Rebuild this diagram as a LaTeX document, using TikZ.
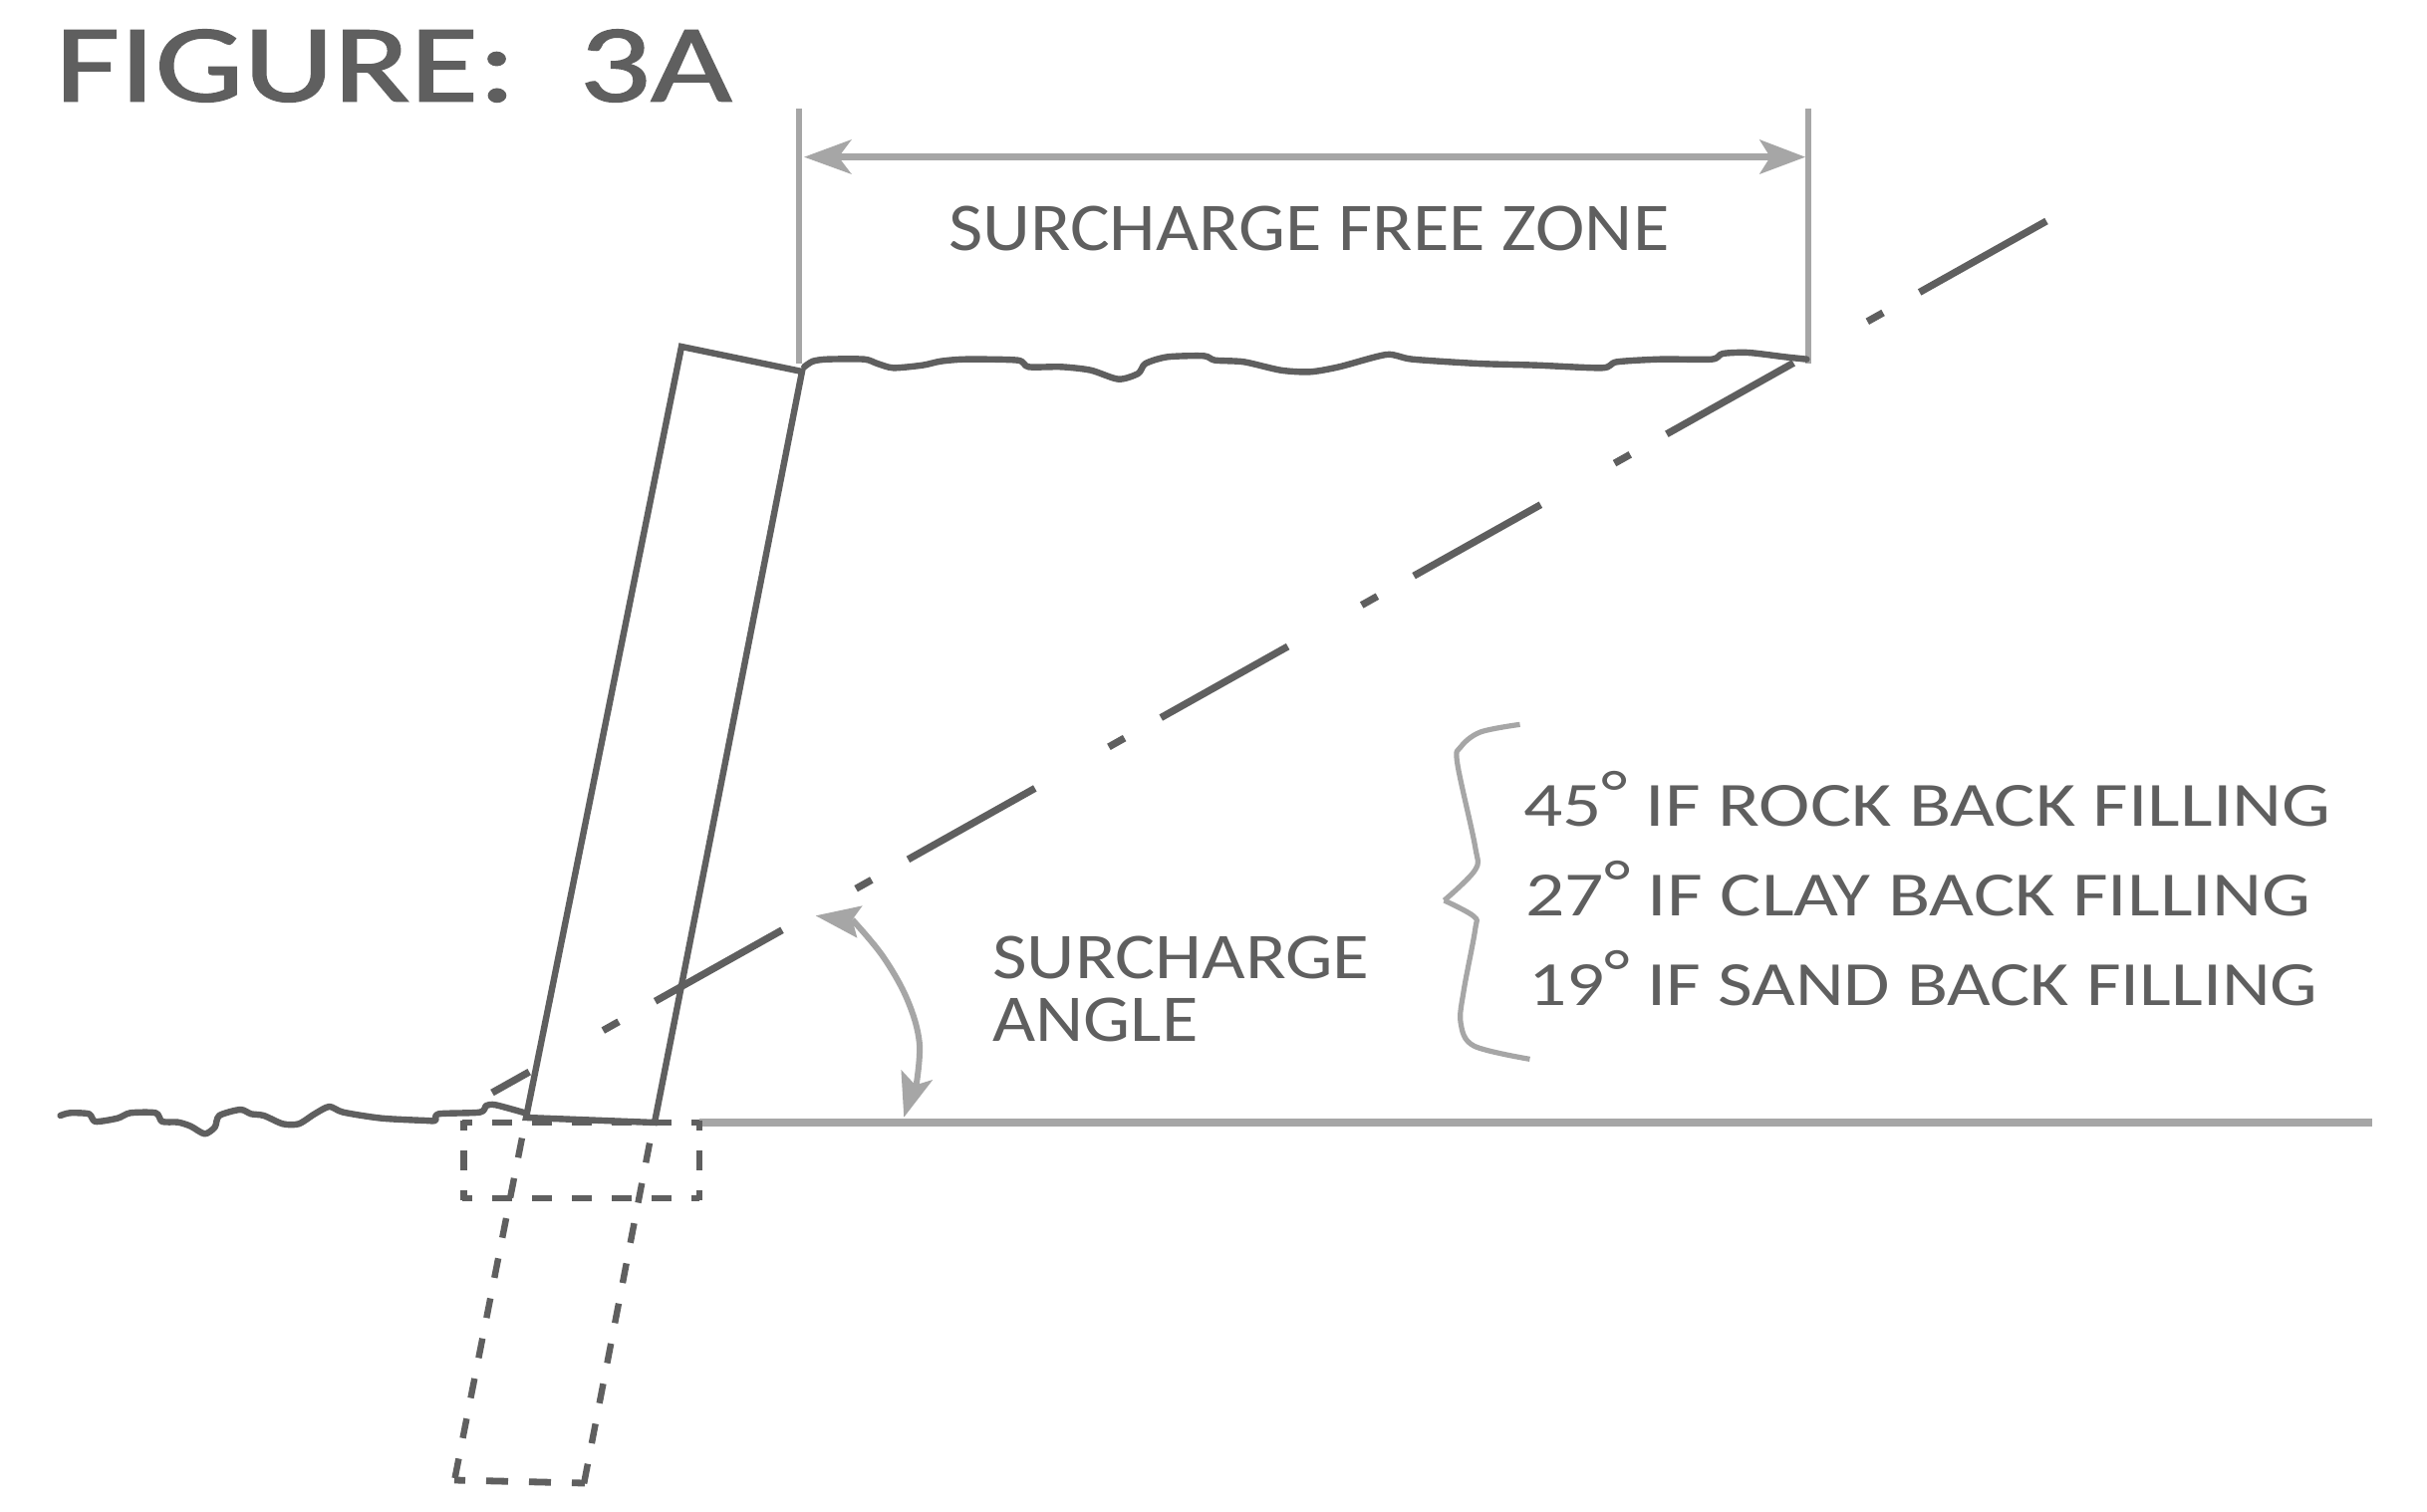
\documentclass[tikz,border=0pt]{standalone}
\usepackage{fontspec}
\usepackage{graphicx}
\setmainfont{Carlito}
\newfontfamily\titlefont[FakeBold=1.2]{Carlito}
\usetikzlibrary{arrows.meta}
\definecolor{ink}{RGB}{95,95,95}
\definecolor{pale}{RGB}{166,166,166}
\newcommand{\fitlabel}[3]{\resizebox*{#1}{#2}{#3}}
\newcommand{\degmark}{\raisebox{.18em}{°}}
\tikzset{
  inkline/.style={draw=ink,line width=3.2pt},
  roughline/.style={draw=ink,line width=3.2pt,line join=round,line cap=round},
  paleline/.style={draw=pale,line width=3pt},
  palethick/.style={draw=pale,line width=3.8pt},
  palehead/.style={fill=pale,draw=none},
  hiddenline/.style={draw=ink,line width=3.4pt},
  textlabel/.style={anchor=south west,inner sep=0pt,text=ink},
  zoomA/.style={xshift=0pt,yshift=-500pt,x=.319pt,y=-.16667pt},
  zoomB/.style={xshift=700pt,yshift=-350pt,x=.3304pt,y=-.16667pt},
  zoomC/.style={xshift=375pt,yshift=-45pt,x=.3667pt,y=-.16667pt},
  zoomD/.style={xshift=390pt,yshift=-440pt,x=.204pt,y=-.16667pt},
}
\begin{document}
\begin{tikzpicture}[x=.5pt,y=-.5pt]
\path[use as bounding box,fill=white] (0,0) rectangle (2436,1518);

% dash-dot surcharge line
\draw[draw=ink,line width=3.6pt,dash pattern=on 73pt off 21pt on 9pt off 42.5pt] (2054,222) -- (494,1097);

% dimension lines
\draw[paleline] (802,109) -- (802,365);
\draw[paleline] (1815,109) -- (1815,365);
\draw[palethick] (840,157.7) -- (1780,157.7);
\begin{scope}[zoomC]
  \fill[palehead] (78,203) -- (143,150) -- (125,203) -- (143,255) -- cycle;
  \fill[palehead] (1448,203) -- (1385,150) -- (1400,203) -- (1385,255) -- cycle;
  \draw[roughline] plot[smooth,tension=.45] coordinates {(78,835) (90,818) (110,812) (160,812) (178,825) (200,838) (240,830) (265,818) (300,812) (370,815) (385,835) (430,835) (470,845) (508,872) (535,855) (545,825) (575,805) (625,802) (640,815) (680,820) (730,845) (770,850) (810,835) (875,798) (910,812) (1000,825) (1080,830) (1170,838) (1190,820) (1250,812) (1320,812) (1335,795) (1370,792) (1420,805) (1450,812)};
\end{scope}

% wall
\draw[inkline,line join=miter] (684,348) -- (805,373) -- (657,1127) -- (528,1122) -- cycle;

% ground level
\draw[palethick] (702,1127) -- (2381,1127);
\begin{scope}[zoomA]
  \draw[roughline] plot[smooth,tension=.45] coordinates {(95,360) (110,352) (140,355) (150,378) (185,368) (205,352) (245,352) (255,378) (280,380) (300,392) (322,415) (338,395) (345,360) (378,342) (395,355) (415,360) (445,385) (470,385) (495,355) (518,333) (540,350) (600,368) (670,375) (685,375) (690,355) (755,350) (765,330) (780,328) (826,352)};
\end{scope}

% hidden footing
\begin{scope}[hiddenline,dash pattern=on 10pt off 10pt,dash phase=5pt]
  \draw (464,1127) -- (702,1127);
  \draw (464,1203) -- (702,1203);
  \draw (465.5,1125) -- (465.5,1205);
  \draw (702,1125) -- (702,1205);
\end{scope}
\begin{scope}[draw=ink,line width=3.2pt,dash pattern=on 10pt off 10.5pt,dash phase=10pt]
  \draw (528,1122) -- (456,1487);
  \draw (656,1127) -- (586,1490);
\end{scope}
\draw[hiddenline,dash pattern=on 11pt off 10.5pt,dash phase=5.5pt] (456,1486) -- (587,1489);

% angle arrow
\begin{scope}[zoomD]
  \draw[paleline] plot[smooth,tension=.6] coordinates {(185,130) (260,240) (320,370) (350,500) (342,630)};
  \fill[palehead] (95,118) -- (210,88) -- (185,130) -- (197,185) -- cycle;
  \fill[palehead] (312,725) -- (305,582) -- (340,628) -- (383,612) -- cycle;
\end{scope}

% brace
\begin{scope}[zoomB]
  \draw[draw=pale,line width=2.6pt,line join=round] plot[smooth,tension=.55] coordinates {(190,82) (130,105) (100,150) (95,200) (122,450) (122,520) (75,612)};
  \draw[draw=pale,line width=2.6pt,line join=round] plot[smooth,tension=.55] coordinates {(75,612) (120,660) (122,700) (105,880) (100,980) (120,1050) (205,1090)};
\end{scope}

% texts
\node[textlabel] (title) at (55,103) {\fitlabel{339.5pt}{36.5pt}{\titlefont FIGURE:\ \ 3A}};
\node[textlabel] (zone) at (952,252) {\fitlabel{361.5pt}{22.5pt}{SURCHARGE FREE ZONE}};
\node[textlabel] (angleA) at (996,983) {\fitlabel{189pt}{21.5pt}{SURCHARGE}};
\node[textlabel] (angleB) at (996,1046) {\fitlabel{103pt}{22pt}{ANGLE}};
\node[textlabel] (rock) at (1529,830) {\fitlabel{405pt}{27.5pt}{45\degmark\ IF ROCK BACK FILLING}};
\node[textlabel] (clay) at (1531,920) {\fitlabel{394pt}{27.5pt}{27\degmark\ IF CLAY BACK FILLING}};
\node[textlabel] (sand) at (1534,1010) {\fitlabel{396pt}{27.5pt}{19\degmark\ IF SAND BACK FILLING}};
\end{tikzpicture}
\end{document}
